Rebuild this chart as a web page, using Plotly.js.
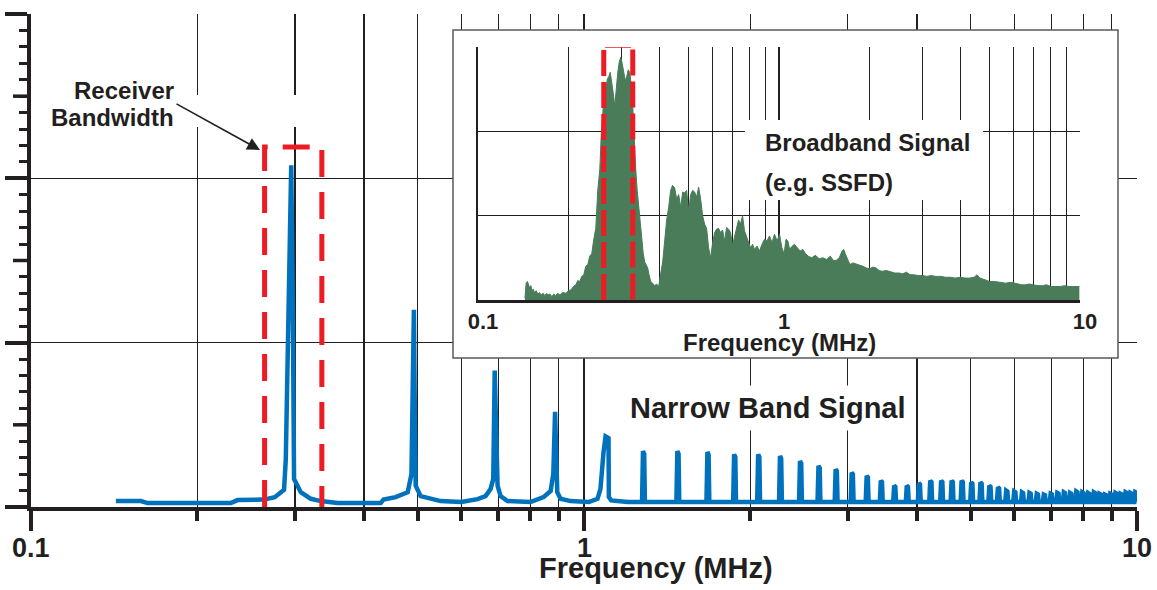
<!DOCTYPE html>
<html><head><meta charset="utf-8">
<script src="https://cdn.plot.ly/plotly-3.0.1.min.js"></script>
<style>html,body{margin:0;padding:0;background:#fff}#chart{width:1157px;height:590px}</style>
</head><body><div id="chart"></div>
<script>
// ---------------- data ----------------
// Narrow band signal: explicit trace around the first harmonics (MHz, amplitude)
const mainFreq = [0.1424,0.1580,0.1625,0.2298,0.2363,0.2639,0.2759,0.2868,0.2889,0.2916,0.2955,0.2975,0.2990,0.3075,0.3206,0.3342,0.3586,0.4289,0.4340,0.4565,
  0.4800,0.4875,0.4910,0.4925,0.4940,0.4962,0.5065,0.5280,0.5505,0.6000,
  0.6420,0.6637,0.6777,0.6853,0.6895,0.6978,0.7065,0.7274,0.8000,
  0.8451,0.8702,0.8800,0.8865,0.8947,0.9070,0.9454,1.0200,
  1.0578,1.0710,1.0845,1.0940,1.1075,1.1090,1.1200,1.2000];
const mainAmp = [0.036,0.036,0.024,0.024,0.042,0.045,0.060,0.105,0.29,1.00,2.08,1.20,0.17,0.09,0.05,0.036,0.024,0.024,0.045,0.060,
  0.090,0.20,0.80,1.20,0.70,0.13,0.066,0.050,0.036,0.030,
  0.048,0.066,0.11,0.17,0.83,0.13,0.066,0.036,0.030,
  0.060,0.097,0.20,0.58,0.09,0.05,0.036,0.030,
  0.050,0.11,0.33,0.43,0.42,0.06,0.04,0.03];
// Higher odd harmonics of the narrow band signal (MHz) and their peak amplitudes
const combFreq = [1.281,1.478,1.675,1.872,2.069,2.266,2.463,2.660,2.857,3.054,3.251,3.448,3.645,3.842,4.039,4.236,4.433,4.630,4.827,5.024,
  5.221,5.418,5.615,5.812,6.009,6.206,6.403,6.600,6.797,6.994,7.191,7.388,7.585,7.782,7.979,8.176,8.373,8.570,8.767,8.964,9.161,9.358,9.555,9.752,9.949];
const combAmp = [0.34,0.34,0.335,0.32,0.32,0.31,0.28,0.25,0.23,0.21,0.19,0.16,0.13,0.13,0.145,0.16,0.16,0.16,0.16,0.15,
  0.15,0.13,0.12,0.10,0.095,0.09,0.085,0.08,0.075,0.08,0.085,0.09,0.085,0.095,0.09,0.085,0.09,0.08,0.075,0.08,0.085,0.08,0.09,0.085,0.09];
const floorAmp = 0.03;

// Broadband (SSFD) spectrum in the inset (MHz, amplitude)
const insetFreq = [0.1432,0.1445,0.1460,0.1480,0.1500,0.1511,0.1525,0.1540,0.1560,0.1581,0.1600,0.1620,0.1645,0.1668,0.1690,0.1710,0.1735,0.1760,0.1785,0.1810,
  0.1840,0.1871,0.1910,0.1958,0.2000,0.2035,0.2075,0.2113,0.2145,0.2179,0.2210,0.2247,0.2280,0.2316,0.2350,0.2388,0.2420,0.2462,0.2500,0.2539,
  0.2570,0.2598,0.2625,0.2658,0.2690,0.2720,0.2750,0.2782,0.2815,0.2847,0.2880,0.2913,0.2945,0.2980,0.3015,0.3049,0.3085,0.3120,0.3155,0.3192,
  0.3230,0.3267,0.3300,0.3342,0.3380,0.3420,0.3460,0.3499,0.3540,0.3580,0.3620,0.3663,0.3700,0.3748,0.3800,0.3865,0.3920,0.3984,0.4040,0.4107,
  0.4170,0.4235,0.4300,0.4366,0.4430,0.4502,0.4570,0.4642,0.4715,0.4786,0.4860,0.4934,0.5010,0.5088,0.5165,0.5245,0.5325,0.5408,0.5490,0.5575,
  0.5660,0.5748,0.5835,0.5926,0.6020,0.6111,0.6200,0.6299,0.6395,0.6495,0.6595,0.6697,0.6800,0.6903,0.7010,0.7118,0.7230,0.7339,0.7450,0.7566,
  0.7680,0.7801,0.7920,0.8043,0.8170,0.8292,0.8450,0.8615,0.8780,0.8950,0.9120,0.9299,0.9480,0.9663,0.9850,1.004,1.022,1.040,1.055,1.070,
  1.085,1.100,1.125,1.150,1.175,1.200,1.225,1.250,1.285,1.320,1.360,1.400,1.440,1.480,1.515,1.550,1.585,1.620,1.640,1.660,
  1.690,1.720,1.760,1.800,1.850,1.900,1.950,2.000,2.050,2.100,2.150,2.200,2.275,2.350,2.425,2.500,2.575,2.650,2.725,2.800,
  2.900,3.000,3.100,3.200,3.320,3.450,3.570,3.700,3.850,4.000,4.150,4.300,4.450,4.550,4.650,4.750,4.900,5.000,5.200,5.400,
  5.650,5.900,6.050,6.200,6.400,6.600,6.800,7.000,7.250,7.500,7.750,8.000,8.300,8.600,8.900,9.200,9.500,9.950];
const insetAmp = [0.02,0.20,0.22,0.15,0.17,0.10,0.13,0.09,0.11,0.07,0.09,0.06,0.08,0.05,0.08,0.06,0.07,0.04,0.07,0.05,
  0.08,0.06,0.09,0.08,0.11,0.12,0.16,0.18,0.23,0.22,0.28,0.30,0.40,0.42,0.52,0.55,0.70,0.85,1.30,1.55,
  2.00,2.20,2.55,2.50,2.62,2.65,2.70,2.60,2.45,2.30,2.55,2.70,2.82,2.88,2.80,2.72,2.60,2.65,2.73,2.70,
  2.55,2.30,1.90,1.55,1.30,1.10,0.90,0.75,0.55,0.45,0.42,0.38,0.30,0.22,0.20,0.17,0.19,0.16,0.30,0.45,
  0.70,0.95,1.10,1.30,1.36,1.33,1.20,1.25,1.10,1.28,1.27,1.30,1.05,1.25,1.30,1.28,1.22,1.34,1.20,1.00,
  0.90,0.85,0.62,0.50,0.68,0.80,0.84,0.85,0.80,0.83,0.70,0.86,0.84,0.80,0.65,0.75,0.82,0.95,0.90,1.00,
  0.82,0.75,0.68,0.62,0.66,0.60,0.64,0.58,0.66,0.72,0.70,0.76,0.68,0.78,0.70,0.78,0.62,0.55,0.72,0.70,
  0.60,0.63,0.66,0.62,0.58,0.60,0.55,0.52,0.50,0.53,0.49,0.50,0.48,0.52,0.47,0.47,0.50,0.58,0.60,0.55,
  0.48,0.42,0.44,0.43,0.41,0.40,0.38,0.37,0.39,0.38,0.35,0.34,0.35,0.33,0.32,0.32,0.31,0.33,0.30,0.30,
  0.29,0.29,0.28,0.29,0.28,0.28,0.27,0.27,0.26,0.27,0.26,0.26,0.27,0.30,0.26,0.25,0.23,0.22,0.22,0.21,
  0.20,0.21,0.20,0.19,0.18,0.18,0.19,0.18,0.17,0.17,0.18,0.16,0.16,0.16,0.17,0.16,0.16,0.16];

// Receiver bandwidth boxes (MHz edges, amplitude top)
const bwMainX = [0.2645,0.2645,0.3357,0.3357];
const bwMainY = [0,2.19,2.19,0];
const bwInsetX = [0.2617,0.2617,0.3267,0.3267];
const bwInsetY = [0,3.02,3.02,0];

// tick labels
const tickVals = [0.1,1,10];
const tickText = ['0.1','1','10'];
const minorVals = [0.2,0.3,0.4,0.5,0.6,0.7,0.8,0.9,2,3,4,5,6,7,8,9];
const midTickVals = [0.5,1.5,2.5];

// ---------------- layout helpers ----------------
const W=1157,H=590,L=31,R=1137,T=14,B=507;
const pxX = p => (p-L)/(R-L);
const pxY = p => (B-p)/(B-T);
const dX = p => Math.pow(10,(p-L)/(R-L)*2-1);      // pixel -> main x data
const dY = p => (B-p)/(B-T)*3;                       // pixel -> main y data
const IL=478, IR=1080, IT=47, IB=300;
const dX2 = p => Math.pow(10,(p-IL)/(IR-IL)*2-1);
const dY2 = p => (IB-p)/(IB-IT)*3;

const INK = '#231f20';
const FONT = 'Liberation Sans, Arial, Helvetica, sans-serif';

// build the blue line: explicit part + odd-harmonic spikes
const bx = mainFreq.slice(), by = mainAmp.slice();
combFreq.forEach((f,i)=>{
  bx.push(f/1.006, f/1.002, f*1.003, f*1.006);
  by.push(floorAmp, combAmp[i], combAmp[i]*0.95, floorAmp);
});

const traces = [
  {x:bx, y:by, type:'scatter', mode:'lines', xaxis:'x', yaxis:'y',
   line:{color:'#0071bc', width:4.5}, hoverinfo:'skip'},
  {x:bwMainX, y:bwMainY, type:'scatter', mode:'lines', xaxis:'x', yaxis:'y',
   line:{color:'#ed1c24', width:5, dash:'27px,15px'}, hoverinfo:'skip'},
  {x:insetFreq, y:insetAmp, type:'scatter', mode:'lines', xaxis:'x2', yaxis:'y2',
   fill:'tozeroy', fillcolor:'#4a7c59', line:{color:'#4a7c59', width:1}, hoverinfo:'skip'},
  {x:bwInsetX, y:bwInsetY, type:'scatter', mode:'lines', xaxis:'x2', yaxis:'y2', cliponaxis:false,
   line:{color:'#ed1c24', width:5, dash:'26px,6px'}, hoverinfo:'skip'}
];

const shapes = [
  // inset frame (covers main grid)
  {type:'rect', xref:'x', yref:'y', layer:'between', x0:dX(453), x1:dX(1118), y0:dY(358), y1:dY(30),
   fillcolor:'#ffffff', line:{color:'#58595b', width:1.5}},
  // white gap behind the arrow label
  {type:'rect', xref:'x', yref:'y', layer:'between', x0:dX(180), x1:dX(305), y0:dY(127), y1:dY(95),
   fillcolor:'#ffffff', line:{width:0}},
  // white gap behind inset text
  {type:'rect', xref:'x2', yref:'y2', layer:'between', x0:dX2(745), x1:dX2(983), y0:dY2(200), y1:dY2(120),
   fillcolor:'#ffffff', line:{width:0}}
];
midTickVals.forEach(v=>{
  shapes.push({type:'line', xref:'paper', yref:'paper', layer:'above',
    x0:pxX(13), x1:pxX(29), y0:v/3, y1:v/3, line:{color:INK, width:3.5}});
});

const ann = (text,x,y,size,opts) => Object.assign({text, x:pxX(x), y:pxY(y), xref:'paper', yref:'paper',
  showarrow:false, font:{family:FONT, size, color:INK, weight:700}, xanchor:'center', yanchor:'middle'}, opts||{});

const annotations = [
  ann('Receiver',176,90,24,{xanchor:'right'}),
  ann('Bandwidth',176,117,24,{xanchor:'right'}),
  {text:'', x:pxX(260), y:pxY(150), xref:'paper', yref:'paper', showarrow:true,
   ax:-85, ay:-47, axref:'pixel', ayref:'pixel', arrowhead:2, arrowsize:1.6, arrowwidth:1.6,
   arrowcolor:INK, standoff:0, startstandoff:0},
  ann('Narrow Band Signal',768,408,29,{bgcolor:'#ffffff', borderpad:6}),
  ann('Broadband Signal',763,142,24,{xanchor:'left'}),
  ann('(e.g. SSFD)',763,183,24,{xanchor:'left'}),
  ann('Frequency (MHz)',656,568,29),
  ann('Frequency (MHz)',779,342,24)
];
// main x-axis tick labels, placed at their tick values
tickVals.forEach((v,i)=>{
  annotations.push({text:tickText[i], x:Math.log10(v), y:pxY(548), xref:'x', yref:'paper',
    showarrow:false, xanchor:'center', yanchor:'middle',
    font:{family:FONT, size:27, color:INK, weight:700}});
});

const layout = {
  width:W, height:H, margin:{l:L, r:W-R, t:T, b:H-B, pad:0},
  paper_bgcolor:'#ffffff', plot_bgcolor:'#ffffff', showlegend:false, hovermode:false,
  font:{family:FONT, color:INK},
  xaxis:{type:'log', range:[-1,1], domain:[0,1], anchor:'y',
    showline:true, linewidth:4, linecolor:INK,
    ticks:'outside', ticklen:20, tickwidth:4, tickcolor:INK,
    tickmode:'array', tickvals:tickVals, ticktext:tickText, showticklabels:false,
    showgrid:true, gridcolor:INK, gridwidth:1.3, zeroline:false,
    minor:{tickmode:'array', tickvals:minorVals, ticks:'outside', ticklen:10, tickwidth:4, tickcolor:INK,
      showgrid:true, gridcolor:INK, gridwidth:1.3}},
  yaxis:{range:[0,3], domain:[0,1], anchor:'x',
    showline:true, linewidth:4, linecolor:INK,
    ticks:'outside', ticklen:22, tickwidth:4, tickcolor:INK, dtick:1, tick0:0,
    showticklabels:false, showgrid:true, gridcolor:INK, gridwidth:1.3, zeroline:false,
    minor:{dtick:0.1, tick0:0, ticks:'outside', ticklen:8, tickwidth:3, tickcolor:INK, showgrid:false}},
  xaxis2:{type:'log', range:[-1,1], domain:[pxX(IL), pxX(IR)], anchor:'y2',
    showline:true, linewidth:2.5, linecolor:INK, ticks:'',
    tickmode:'array', tickvals:tickVals, ticktext:tickText, ticklabelstandoff:0, ticklabelshift:5,
    tickfont:{family:FONT, size:22, color:INK, weight:700},
    showgrid:true, gridcolor:INK, gridwidth:1.3, zeroline:false,
    minor:{tickmode:'array', tickvals:minorVals, ticks:'', showgrid:true, gridcolor:INK, gridwidth:1.3}},
  yaxis2:{range:[0,3], domain:[pxY(IB), pxY(IT)], anchor:'x2',
    showline:true, linewidth:2.5, linecolor:INK, ticks:'', dtick:1, tick0:0,
    showticklabels:false, showgrid:true, gridcolor:INK, gridwidth:1.3, zeroline:false},
  shapes, annotations
};

Plotly.newPlot('chart', traces, layout, {staticPlot:true, displayModeBar:false});
</script>
</body></html>
